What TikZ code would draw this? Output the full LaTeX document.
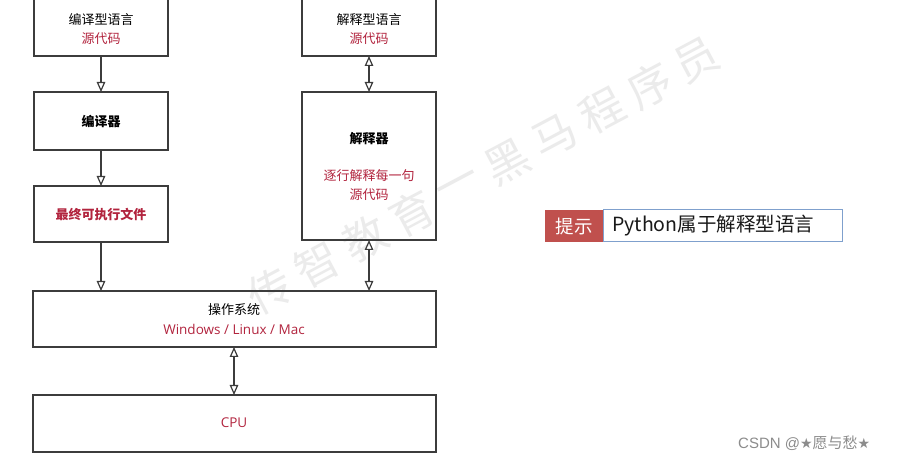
\documentclass[tikz,border=0pt]{standalone}
\usepackage{fontspec}
\setmainfont{Noto Sans CJK SC}
\newfontfamily\symfont{DejaVu Sans}
\newfontfamily\arialfont{Liberation Sans}
\newfontfamily\latinfont{Open Sans}
\usetikzlibrary{arrows.meta,calc}
\definecolor{dred}{RGB}{178,36,62}
\definecolor{tipred}{RGB}{192,80,77}
\definecolor{tipblue}{RGB}{127,160,205}
\definecolor{edge}{RGB}{60,60,60}
\tikzset{
  box/.style={draw=edge, line width=1.2pt},
  lbl/.style={font=\fontsize{13}{15}\selectfont, text=black, inner sep=0pt},
  rlbl/.style={lbl, text=dred},
  conn/.style={draw=edge, line width=1.2pt, -{Triangle[open,length=10pt,width=8.5pt]}},
  dconn/.style={draw=edge, line width=1.2pt, {Triangle[open,length=10pt,width=8.5pt]}-{Triangle[open,length=10pt,width=8.5pt]}},
  wmchar/.style={text=black!8, rotate=28, font=\fontsize{44}{44}\selectfont, inner sep=0pt},
}
\begin{document}
\begin{tikzpicture}[x=1pt,y=-1pt]
\useasboundingbox (0,0) rectangle (900,462);
\fill[white] (0,0) rectangle (900,462);
% watermark
\coordinate (wmA) at (270,290);
\coordinate (wmB) at (697,60);
\foreach \c [count=\i from 0] in {传,智,教,育,一,黑,马,程,序,员}{
  \node[wmchar] (wm\i) at ($(wmA)!\i/9!(wmB)$) {\c};
}
% boxes
\draw[box] (34,-2) rectangle (168,56); \coordinate (b1) at (101,56);
\node[lbl] (t1a) at (101,20) {编译型语言};
\node[rlbl] (t1b) at (101,39) {源代码};
\draw[box] (34,92) rectangle (168,150);
\coordinate (b2t) at (101,92); \coordinate (b2b) at (101,150);
\node[lbl, font=\fontsize{13}{15}\selectfont\bfseries] (t2) at (101,122) {编译器};
\draw[box] (34,186) rectangle (168,242);
\coordinate (b3t) at (101,186); \coordinate (b3b) at (101,242);
\node[rlbl, font=\fontsize{13}{15}\selectfont\bfseries] (t3) at (101,215) {最终可执行文件};

\draw[box] (302,-2) rectangle (436,56); \coordinate (b4) at (369,56);
\node[lbl] (t4a) at (369,20) {解释型语言};
\node[rlbl] (t4b) at (369,39) {源代码};
\draw[box] (302,92) rectangle (436,240);
\coordinate (b5t) at (369,92); \coordinate (b5b) at (369,240);
\node[lbl, font=\fontsize{13}{15}\selectfont\bfseries] (t5) at (369,139) {解释器};
\node[rlbl] (t5b) at (369,176) {逐行解释每一句};
\node[rlbl] (t5c) at (369,195) {源代码};

\draw[box] (33,291) rectangle (436,347);
\coordinate (osl) at (101,291); \coordinate (osr) at (369,291); \coordinate (osb) at (234,347);
\node[lbl] (t6a) at (234,310) {操作系统};
\node[rlbl, font=\latinfont\fontsize{13.5}{15}\selectfont] (t6b) at (234,329) {Windows / Linux / Mac};
\draw[box] (33,395) rectangle (436,452);
\coordinate (cpu) at (234,395);
\node[rlbl, font=\latinfont\fontsize{13.5}{15}\selectfont] (t7) at (234,423) {CPU};

% connectors
\draw[conn] (b1) -- (b2t);
\draw[conn] (b2b) -- (b3t);
\draw[conn] (b3b) -- (osl);
\draw[dconn] (b4) -- (b5t);
\draw[dconn] (b5b) -- (osr);
\draw[dconn] (osb) -- (cpu);

% tip
\fill[tipred] (545,210) rectangle (603,242);
\node[text=white, font=\fontsize{18.5}{20}\selectfont, inner sep=0pt] (tip) at (574,226) {提示};
\draw[draw=tipblue, line width=1pt, fill=white] (603,210) rectangle (842,242);
\node[anchor=west, text=black!90, font=\fontsize{19.5}{21}\selectfont, inner sep=0pt] (tiptext) at (612,226) {Python属于解释型语言};

% csdn
\node[anchor=west, text=black!45, font=\fontsize{15}{17}\selectfont, inner sep=0pt] (csdn) at (738,443) {{\arialfont CSDN @}{\symfont\fontsize{14}{17}\selectfont ★}愿与愁{\symfont\fontsize{14}{17}\selectfont ★}};
\end{tikzpicture}
\end{document}
